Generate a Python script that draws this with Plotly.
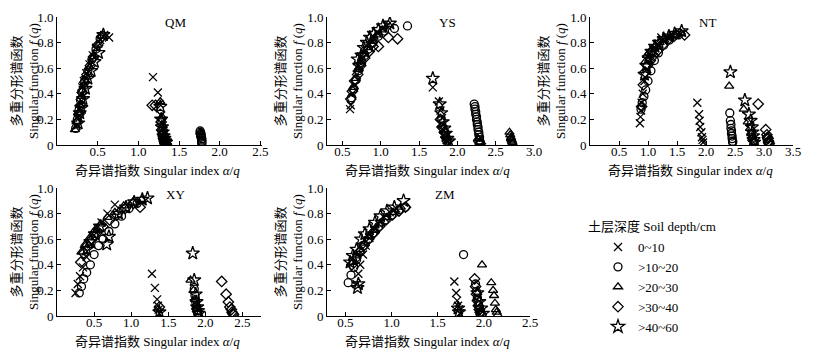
import plotly.graph_objects as go

DEPTHS = ["0~10", ">10~20", ">20~30", ">30~40", ">40~60"]
SYMBOLS = ["x-thin-open", "circle-open", "triangle-up-open", "diamond-open", "star-open"]
PANELS = ["QM", "YS", "NT", "XY", "ZM"]

# ---- QM ----
QM_X = [
    [0.24,0.26,0.27,0.28,0.30,0.31,0.33,0.36,0.40,0.44,0.48,0.53,0.58,0.64, 1.18,1.24,1.26,1.28,1.29,1.30,1.31,1.31,1.32,1.33],
    [0.23,0.25,0.27,0.29,0.31,0.34,0.38,0.43,0.48,0.53, 1.30,1.31, 1.76,1.76,1.77,1.77,1.77,1.77,1.78,1.78,1.78,1.78,1.78],
    [0.22,0.24,0.26,0.28,0.30,0.33,0.36,0.40,0.45,0.50,0.55, 1.27,1.29,1.30,1.31,1.32,1.33,1.34,1.35,1.36, 1.76,1.77],
    [0.25,0.27,0.29,0.31,0.34,0.37,0.41,0.45,0.50,0.56, 1.17,1.21,1.28,1.29,1.30,1.31,1.32,1.34],
    [0.26,0.28,0.30,0.32,0.35,0.38,0.42,0.46,0.51,0.57, 1.27,1.28,1.29,1.30,1.31,1.32,1.33,1.34],
]
QM_Y = [
    [0.15,0.22,0.28,0.33,0.40,0.45,0.50,0.56,0.63,0.70,0.76,0.82,0.86,0.84, 0.53,0.41,0.32,0.23,0.17,0.12,0.09,0.06,0.04,0.02],
    [0.13,0.20,0.27,0.35,0.42,0.50,0.58,0.67,0.75,0.83, 0.05,0.02, 0.11,0.10,0.09,0.08,0.07,0.06,0.05,0.04,0.03,0.02,0.01],
    [0.12,0.18,0.25,0.31,0.38,0.46,0.53,0.61,0.69,0.78,0.85, 0.34,0.22,0.15,0.10,0.07,0.05,0.03,0.02,0.01, 0.10,0.08],
    [0.18,0.24,0.31,0.41,0.49,0.55,0.62,0.69,0.78,0.85, 0.31,0.31,0.18,0.12,0.08,0.05,0.03,0.01],
    [0.17,0.25,0.29,0.36,0.44,0.52,0.58,0.65,0.72,0.86, 0.30,0.20,0.14,0.10,0.07,0.05,0.03,0.02],
]
# ---- YS ----
YS_X = [
    [0.60,0.61,0.63,0.66,0.69,0.72,0.76,0.80,0.85,0.90,0.96,1.02,1.08, 1.68,1.76,1.78,1.80,1.81,1.82,1.84,1.85,1.86,1.87],
    [0.62,0.65,0.68,0.71,0.75,0.79,0.84,0.90,0.97,1.05,1.18,1.35, 2.22,2.23,2.23,2.24,2.24,2.25,2.25,2.26,2.26,2.27,2.27,2.28,2.28,2.29,2.29,2.30],
    [0.64,0.67,0.70,0.74,0.78,0.83,0.89,0.95,1.02,1.10, 2.68,2.69,2.70,2.70,2.71,2.71,2.72,2.72, 2.27,2.29],
    [0.61,0.63,0.66,0.70,0.74,0.79,0.85,0.90,0.97,1.10,1.22, 1.78,1.80,1.83,1.85,1.87, 2.28,2.30],
    [0.70,0.72,0.75,0.78,0.82,0.86,0.91,0.97,1.03,1.12, 1.68,1.77,1.79,1.81,1.83,1.85,1.87,1.89],
]
YS_Y = [
    [0.28,0.31,0.40,0.47,0.55,0.62,0.68,0.74,0.79,0.84,0.87,0.91,0.93, 0.45,0.34,0.27,0.21,0.16,0.12,0.09,0.06,0.04,0.02],
    [0.37,0.44,0.51,0.58,0.64,0.70,0.75,0.80,0.85,0.89,0.91,0.93, 0.32,0.30,0.28,0.26,0.24,0.22,0.20,0.18,0.16,0.14,0.12,0.10,0.08,0.06,0.04,0.02],
    [0.45,0.52,0.59,0.65,0.71,0.76,0.81,0.86,0.90,0.94, 0.10,0.08,0.06,0.05,0.04,0.03,0.02,0.01, 0.05,0.02],
    [0.36,0.42,0.50,0.55,0.62,0.68,0.73,0.77,0.77,0.84,0.83, 0.20,0.14,0.10,0.06,0.03, 0.03,0.01],
    [0.67,0.62,0.70,0.76,0.80,0.84,0.87,0.90,0.93,0.95, 0.52,0.32,0.25,0.18,0.13,0.09,0.05,0.03],
]
# ---- NT ----
NT_X = [
    [0.86,0.87,0.88,0.89,0.91,0.94,0.98,1.03,1.09,1.16,1.23,1.32,1.42, 1.85,1.88,1.89,1.90,1.92,1.93,1.94,1.95],
    [0.88,0.90,0.93,0.96,1.00,1.05,1.11,1.18,1.27,1.37,1.48, 2.41,2.42,2.43,2.43,2.44,2.44,2.45,2.45,2.46,2.46, 3.05,3.07],
    [0.95,0.98,1.02,1.07,1.13,1.20,1.28,1.37,1.47,1.57, 2.40,2.65,2.72,2.76,2.78,2.80,2.82,2.83],
    [0.89,0.92,0.95,0.99,1.04,1.10,1.17,1.25,1.34,1.45,1.55,1.63, 2.90,3.03,3.05,3.06,3.07,3.08,3.08,3.09],
    [0.94,0.97,1.01,1.06,1.12,1.19,1.27,1.36,1.46,1.58, 2.42,2.67,2.74,2.77,2.79,2.80,2.81,2.82,2.83],
]
NT_Y = [
    [0.17,0.22,0.27,0.33,0.40,0.50,0.59,0.67,0.74,0.79,0.84,0.85,0.86, 0.33,0.24,0.19,0.14,0.10,0.06,0.04,0.02],
    [0.28,0.33,0.38,0.43,0.50,0.58,0.66,0.72,0.78,0.82,0.86, 0.25,0.19,0.16,0.13,0.11,0.09,0.07,0.05,0.03,0.02, 0.05,0.02],
    [0.65,0.70,0.72,0.75,0.77,0.80,0.82,0.84,0.86,0.87, 0.46,0.28,0.18,0.13,0.09,0.06,0.04,0.02],
    [0.30,0.47,0.57,0.62,0.66,0.70,0.74,0.78,0.82,0.85,0.87,0.86, 0.32,0.12,0.08,0.06,0.05,0.03,0.02,0.01],
    [0.55,0.62,0.68,0.73,0.77,0.80,0.83,0.85,0.87,0.89, 0.57,0.35,0.24,0.19,0.14,0.10,0.07,0.04,0.02],
]
# ---- XY ----
XY_X = [
    [0.25,0.28,0.31,0.35,0.40,0.46,0.53,0.60,0.68,0.78, 1.28,1.32,1.35,1.36,1.37,1.38],
    [0.30,0.33,0.36,0.40,0.45,0.50,0.56,0.62,0.70,0.78,0.87,0.97,1.08, 1.85,1.86,1.87,1.88,1.89,1.90],
    [0.33,0.38,0.44,0.51,0.59,0.68,0.78,0.90,1.02,1.14, 1.80,1.84,1.86,1.88,1.89,1.90,1.91],
    [0.32,0.36,0.41,0.47,0.54,0.62,0.71,0.81,0.92,1.03,1.12, 1.38, 2.22,2.28,2.31,2.33,2.35,2.36,2.37,2.38],
    [0.40,0.45,0.51,0.58,0.67,0.70,0.83,0.93,1.04,1.15,1.22, 1.83,1.85,1.87,1.88,1.89,1.90,1.91, 1.38],
]
XY_Y = [
    [0.18,0.25,0.31,0.38,0.46,0.56,0.65,0.73,0.80,0.87, 0.33,0.22,0.13,0.08,0.05,0.02],
    [0.18,0.23,0.29,0.34,0.40,0.48,0.55,0.60,0.66,0.72,0.78,0.84,0.88, 0.21,0.16,0.11,0.07,0.04,0.02],
    [0.50,0.56,0.61,0.67,0.72,0.77,0.81,0.86,0.89,0.91, 0.28,0.20,0.13,0.09,0.06,0.03,0.01],
    [0.42,0.49,0.55,0.60,0.65,0.70,0.75,0.79,0.84,0.88,0.85, 0.07, 0.27,0.17,0.11,0.07,0.05,0.03,0.02,0.01],
    [0.52,0.58,0.64,0.70,0.56,0.62,0.80,0.85,0.89,0.91,0.92, 0.49,0.28,0.17,0.11,0.07,0.04,0.02, 0.03],
]
# ---- ZM ----
ZM_X = [
    [0.62,0.64,0.66,0.69,0.72,0.76,0.81,0.86,0.92,0.98,1.05, 1.68,1.70,1.71,1.72,1.73,1.74],
    [0.53,0.56,0.59,0.62,0.66,0.70,0.75,0.80,0.86,0.93,1.00,1.08,1.15, 1.78,1.91,1.92,1.93,1.94,1.95,1.96],
    [0.58,0.62,0.66,0.71,0.76,0.82,0.88,0.95,1.02,1.10, 1.98,2.08,2.10,2.11,2.12,2.13,2.14,2.15],
    [0.57,0.61,0.65,0.70,0.75,0.81,0.87,0.94,1.01,1.08,1.15, 1.90,1.91,1.92,1.93,1.94,1.95,1.96,1.97],
    [0.55,0.58,0.62,0.63,0.64,0.67,0.71,0.76,0.82,0.88,0.95,1.03,1.13, 1.72,1.73,1.93,1.95,1.97,1.99],
]
ZM_Y = [
    [0.25,0.33,0.40,0.48,0.55,0.61,0.67,0.72,0.77,0.81,0.84, 0.27,0.18,0.12,0.08,0.05,0.02],
    [0.26,0.32,0.38,0.44,0.50,0.55,0.60,0.65,0.70,0.75,0.79,0.83,0.85, 0.48,0.25,0.19,0.14,0.09,0.05,0.02],
    [0.42,0.47,0.52,0.57,0.62,0.67,0.72,0.77,0.81,0.85, 0.40,0.26,0.20,0.16,0.10,0.05,0.03,0.01],
    [0.40,0.45,0.50,0.55,0.60,0.65,0.70,0.75,0.79,0.82,0.85, 0.29,0.23,0.17,0.12,0.08,0.05,0.03,0.01],
    [0.42,0.47,0.52,0.22,0.25,0.60,0.64,0.68,0.73,0.78,0.82,0.85,0.90, 0.06,0.03,0.18,0.11,0.06,0.02],
]

DATA_X = [QM_X, YS_X, NT_X, XY_X, ZM_X]
DATA_Y = [QM_Y, YS_Y, NT_Y, XY_Y, ZM_Y]
X_RANGES = [[0, 2.52], [0.3, 3.0], [0, 3.5], [0, 2.75], [0.3, 2.5]]
X_TICKS = [[0.5, 1.0, 1.5, 2.0, 2.5], [0.5, 1.0, 1.5, 2.0, 2.5, 3.0],
           [0.5, 1.0, 1.5, 2.0, 2.5, 3.0, 3.5], [0.5, 1.0, 1.5, 2.0, 2.5],
           [0.5, 1.0, 1.5, 2.0, 2.5]]
Y_TICKS = [0, 0.2, 0.4, 0.6, 0.8, 1.0]

# The page body has an 8px margin, so the figure starts at (8, 8) in the window.
OFF = 8
W, H = 815 - OFF, 355 - OFF
# plot area pixel boxes in window coordinates (left, right, top, bottom)
BOXES = [(57, 262, 17, 145), (327, 534, 17, 145), (590, 793, 17, 145),
         (57, 261, 188, 316), (327, 530, 188, 316)]
YTITLE_DX = [-32, -38, -38, -32, -38]


def px(x):
    return (x - OFF) / W


def py(y):
    return 1 - (y - OFF) / H


FONT = '"Liberation Serif", "Noto Sans CJK SC", serif'

fig = go.Figure()
for p in range(5):
    xa = "x" if p == 0 else f"x{p+1}"
    ya = "y" if p == 0 else f"y{p+1}"
    for s in range(5):
        fig.add_trace(go.Scatter(
            x=DATA_X[p][s], y=DATA_Y[p][s], mode="markers",
            name=DEPTHS[s], legendgroup=DEPTHS[s], showlegend=(p == 0),
            xaxis=xa, yaxis=ya,
            marker=dict(symbol=SYMBOLS[s], size=8 if s != 4 else 10,
                        color="black", line=dict(color="black", width=1.3)),
        ))

layout = dict(
    width=W, height=H, margin=dict(l=0, r=0, t=0, b=0, autoexpand=False),
    paper_bgcolor="white", plot_bgcolor="white",
    font=dict(family=FONT, size=13, color="black"),
    legend=dict(x=px(598), y=py(232), xanchor="left", yanchor="top",
                font=dict(size=13, family=FONT), tracegroupgap=0,
                itemwidth=30, bgcolor="rgba(0,0,0,0)"),
)
annotations = []
for p, (l, r, t, b) in enumerate(BOXES):
    suffix = "" if p == 0 else str(p + 1)
    layout["xaxis" + suffix] = dict(
        domain=[px(l), px(r)], range=X_RANGES[p], tickvals=X_TICKS[p],
        ticktext=[f"{v:.1f}" for v in X_TICKS[p]],
        showgrid=False, zeroline=False, showline=True, linecolor="black",
        linewidth=1, ticks="inside", ticklen=4, tickcolor="black",
        ticklabelstandoff=-6,
        anchor="y" + suffix, tickfont=dict(size=13, family=FONT))
    layout["yaxis" + suffix] = dict(
        domain=[py(b), py(t)], range=[0, 1.0], tickvals=Y_TICKS,
        ticktext=["0", "0.2", "0.4", "0.6", "0.8", "1.0"],
        showgrid=False, zeroline=False, showline=True, linecolor="black",
        linewidth=1, ticks="inside", ticklen=4, tickcolor="black",
        anchor="x" + suffix, tickfont=dict(size=13, family=FONT))
    annotations.append(dict(text=PANELS[p], x=px(l + (r - l) * 0.58), y=py(t + 6),
                            xref="paper", yref="paper", showarrow=False,
                            xanchor="center", yanchor="middle",
                            font=dict(size=13, family=FONT)))
    annotations.append(dict(text="奇异谱指数 Singular index <i>α</i>/<i>q</i>",
                            x=px(l + 100), y=py(b + 25),
                            xref="paper", yref="paper", showarrow=False,
                            xanchor="center", yanchor="middle",
                            font=dict(size=13, family=FONT)))
    annotations.append(dict(text="多重分形谱函数<br>Singular function <i>f</i> (<i>q</i>)",
                            x=px(l + YTITLE_DX[p]), y=py(t + 64),
                            xref="paper", yref="paper", showarrow=False,
                            textangle=-90, xanchor="center", yanchor="middle",
                            font=dict(size=13, family=FONT)))
annotations.append(dict(text="土层深度 Soil depth/cm", x=px(586), y=py(226),
                        xref="paper", yref="paper", showarrow=False,
                        xanchor="left", yanchor="middle",
                        font=dict(size=13, family=FONT)))
layout["annotations"] = annotations
fig.update_layout(**layout)
fig.write_html("out.html")
